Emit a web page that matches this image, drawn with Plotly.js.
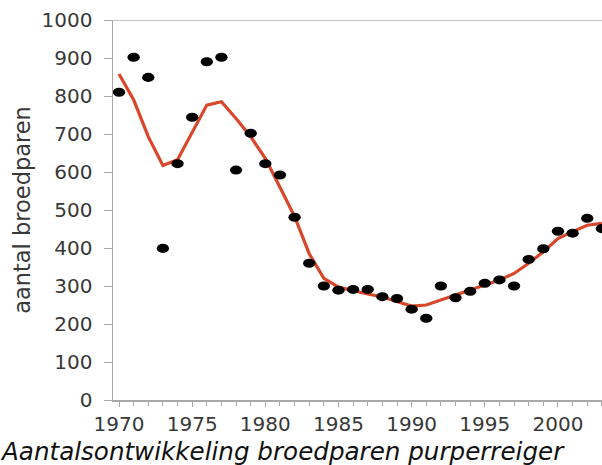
<!DOCTYPE html>
<html>
<head>
<meta charset="utf-8">
<script src="https://cdn.plot.ly/plotly-3.0.1.min.js"></script>
<style>
html,body{margin:0;padding:0;background:#fff;}
#chart{width:602px;height:465px;}
</style>
</head>
<body>
<div id="chart"></div>
<script>
const years = [1970,1971,1972,1973,1974,1975,1976,1977,1978,1979,1980,1981,1982,1983,1984,1985,1986,1987,1988,1989,1990,1991,1992,1993,1994,1995,1996,1997,1998,1999,2000,2001,2002,2003];
const pairs = [810,902,849,399,622,744,890,902,605,702,622,592,481,360,300,289,291,291,272,267,239,215,300,269,286,307,316,300,370,398,444,439,478,451];
const trend = [858,790,693,617,632,706,776,785,741,693,636,560,483,385,320,297,287,279,271,259,247,250,263,276,289,303,316,333,360,390,425,443,460,465];
const yTicks = [0,100,200,300,400,500,600,700,800,900,1000];
const xTicks = [1970,1975,1980,1985,1990,1995,2000];

const axisGray = '#a8a8a8';
const textColor = '#383838';
const fontFam = '"DejaVu Sans", Verdana, sans-serif';

const traces = [
  {
    x: years, y: trend, type: 'scatter', mode: 'lines',
    line: {color: '#d9472b', width: 3.2},
    hoverinfo: 'skip'
  },
  {
    x: years, y: pairs, type: 'scatter', mode: 'markers',
    marker: {color: '#000000', size: 9.5, line: {width: 0}},
    hoverinfo: 'skip'
  }
];

const layout = {
  width: 602, height: 465,
  margin: {l: 113, r: 0, t: 20, b: 65, pad: 0},
  paper_bgcolor: '#ffffff', plot_bgcolor: '#ffffff',
  showlegend: false,
  font: {family: fontFam, color: textColor, size: 20},
  title: {
    text: 'Aantalsontwikkeling broedparen purperreiger',
    font: {family: '"DejaVu Sans", Verdana, sans-serif', size: 24.6, style: 'italic', color: '#111111'},
    x: 2/602, xref: 'container', xanchor: 'left',
    y: 0.01, yref: 'container', yanchor: 'bottom',
    pad: {t: 0, b: 0, l: 0, r: 0}
  },
  xaxis: {
    range: [1969.59, 2003.01],
    tickmode: 'array', tickvals: xTicks, ticktext: xTicks.map(String),
    ticks: 'outside', ticklen: 5, tickwidth: 1, tickcolor: axisGray,
    minor: {dtick: 1, tick0: 1970, ticks: 'outside', ticklen: 4, tickwidth: 1, tickcolor: axisGray, showgrid: false},
    showline: true, linecolor: axisGray, linewidth: 1.5,
    showgrid: false, zeroline: false,
    tickfont: {size: 20, family: fontFam, color: textColor},
    fixedrange: true
  },
  yaxis: {
    range: [0, 1000],
    tickmode: 'array', tickvals: yTicks, ticktext: yTicks.map(String),
    ticks: 'outside', ticklen: 8, tickwidth: 1, tickcolor: axisGray,
    ticklabelstandoff: 7,
    showline: true, linecolor: axisGray, linewidth: 1.5,
    showgrid: false, zeroline: false,
    tickfont: {size: 20, family: fontFam, color: textColor},
    title: {text: 'aantal broedparen', font: {size: 22.5, family: fontFam, color: textColor}, standoff: 4},
    fixedrange: true
  },
  shapes: [
    {type: 'line', xref: 'paper', yref: 'y', x0: 0, x1: 1, y0: 1000, y1: 1000,
     line: {color: '#c4c4c4', width: 2}}
  ]
};

Plotly.newPlot('chart', traces, layout, {staticPlot: true, displayModeBar: false}).then(function(){
  document.querySelectorAll('.scatterlayer .trace:nth-child(2) .point').forEach(function(p){
    const t = p.getAttribute('transform') || '';
    p.setAttribute('transform', t + ' scale(1.3,0.95)');
  });
});
</script>
</body>
</html>
